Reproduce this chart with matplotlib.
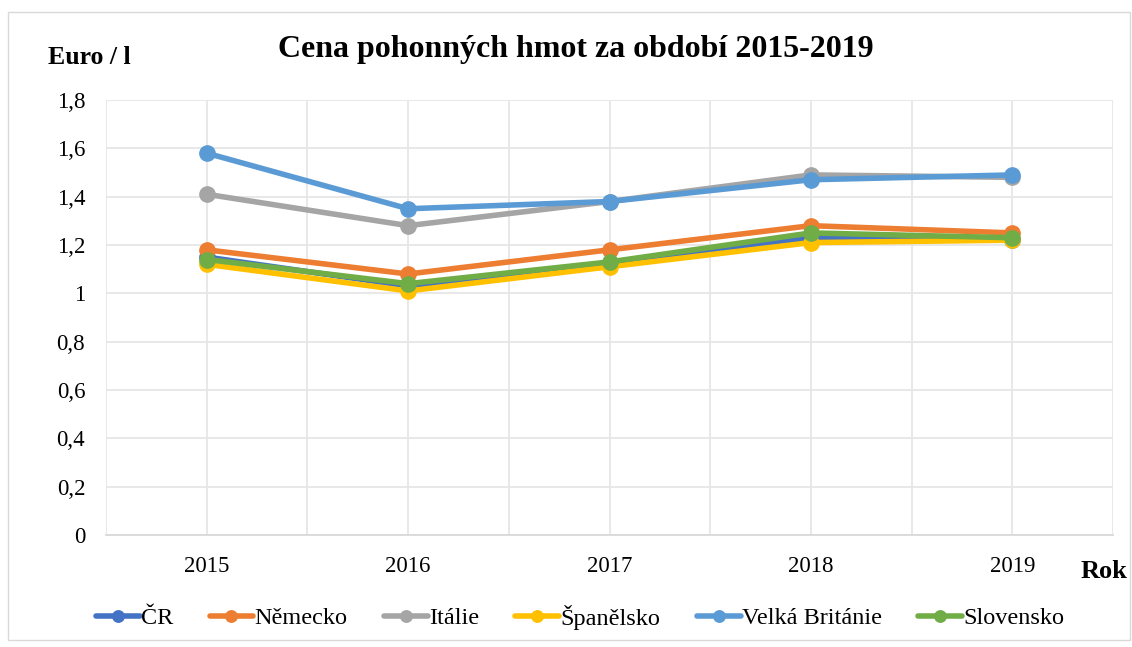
import matplotlib.pyplot as plt
from matplotlib.patches import Rectangle

# data
roky = ['2015', '2016', '2017', '2018', '2019']
cr = [1.15, 1.03, 1.12, 1.23, 1.22]
nemecko = [1.18, 1.08, 1.18, 1.28, 1.25]
italie = [1.41, 1.28, 1.38, 1.49, 1.48]
spanelsko = [1.12, 1.01, 1.11, 1.21, 1.22]
velka_britanie = [1.58, 1.35, 1.38, 1.47, 1.49]
slovensko = [1.14, 1.04, 1.13, 1.25, 1.23]

serie = [('ČR', cr, '#4472C4'),
         ('Německo', nemecko, '#ED7D31'),
         ('Itálie', italie, '#A5A5A5'),
         ('Španělsko', spanelsko, '#FFC000'),
         ('Velká Británie', velka_britanie, '#5B9BD5'),
         ('Slovensko', slovensko, '#70AD47')]

plt.rcParams['font.family'] = ['Liberation Serif', 'DejaVu Serif']

fig = plt.figure(figsize=(11.32, 6.47), dpi=100)
ax = fig.add_axes([106/1132, 1-535/647, (1113-106)/1132, (535-100)/647])

x = list(range(len(roky)))
for nazev, hodnoty, barva in serie:
    ax.plot(x, hodnoty, color=barva, lw=4, marker='o', ms=11, label=nazev,
            solid_capstyle='round')

ax.set_xlim(-0.5, 4.5)
ax.set_ylim(0, 1.8)
ax.set_yticks([i*0.2 for i in range(10)])
ax.set_yticklabels(['0', '0,2', '0,4', '0,6', '0,8', '1', '1,2', '1,4', '1,6', '1,8'])
ax.set_xticks(x)
ax.set_xticklabels(roky)
ax.set_xticks([i - 0.5 for i in range(6)], minor=True)
ax.grid(True, which='both', color='#E6E6E6', lw=1.3)
ax.set_axisbelow(True)
for s in ['top', 'right', 'left']:
    ax.spines[s].set_visible(False)
ax.spines['bottom'].set_color('#D9D9D9')
ax.spines['bottom'].set_linewidth(1.3)
ax.tick_params(which='both', length=0, labelsize=16.5, colors='black')
ax.tick_params(axis='x', pad=15)
ax.tick_params(axis='y', pad=15)

fig.text(576/1132, 1-50/647, 'Cena pohonných hmot za období 2015-2019',
         ha='center', va='center', fontsize=23, fontweight='bold')
fig.text(89/1132, 1-58/647, 'Euro / l', ha='center', va='center',
         fontsize=18.5, fontweight='bold')
fig.text(1104/1132, 1-571/647, 'Rok', ha='center', va='center',
         fontsize=19, fontweight='bold')

fig.legend(loc='center', bbox_to_anchor=(580/1132, 1-617/647), ncol=6,
           frameon=False, fontsize=17.5, handlelength=1.8, handletextpad=0.05,
           columnspacing=1.5, markerscale=0.75)

fig.patches.append(Rectangle((8/1132, 1-640/647), 1122/1132, 628/647,
                             transform=fig.transFigure, fill=False,
                             edgecolor='#D9D9D9', lw=1))

fig.savefig('out.png', dpi=100)
